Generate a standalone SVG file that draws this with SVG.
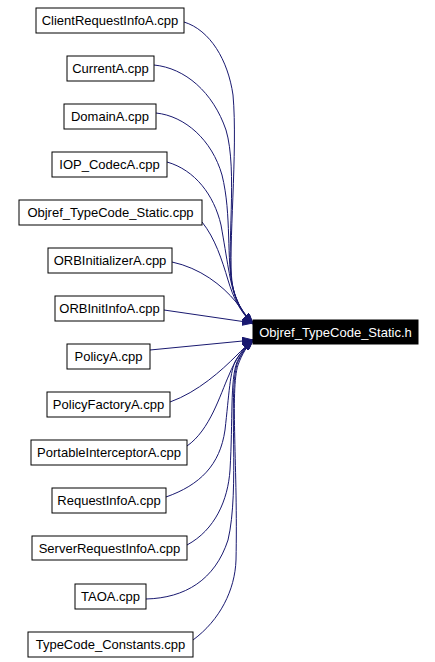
<svg xmlns="http://www.w3.org/2000/svg" width="435" height="662" viewBox="0 0 435 662">
<defs>
<marker id="ah" markerUnits="userSpaceOnUse" markerWidth="11" markerHeight="8" refX="11" refY="4" orient="auto">
<path d="M0,0 L11,4 L0,8 z" fill="#191970" stroke="#191970" stroke-width="1"/>
</marker>
<style>
.n rect{fill:#fff;stroke:#000;stroke-width:1}
.n text{font-family:"Liberation Sans",Arial,Helvetica,sans-serif;font-size:13px;fill:#000;text-anchor:middle}
.t rect{fill:#000;stroke:#000}
.t text{font-family:"Liberation Sans",Arial,Helvetica,sans-serif;font-size:13px;fill:#fff;text-anchor:middle}
.e path{fill:none;stroke:#191970;stroke-width:1;marker-end:url(#ah)}
</style>
</defs>
<rect width="435" height="662" fill="#fff"/>
<g id="edges" class="e">
<path d="M184,22 C210,30 228,60 233,95 C238,150 228,250 232,282 C235,302 242,313 253,324"/>
<path d="M154,65 C185,68 213,92 226,130 C238,170 226,250 232,284 C236,302 243,314 253,324"/>
<path d="M156,113 C185,116 212,140 222,175 C232,215 226,260 233,288 C237,304 244,315 253,324"/>
<path d="M167,162 C195,170 214,195 221,225 C227,258 230,285 236,298 C240,308 246,316 253,324"/>
<path d="M202,222 C215,238 222,260 228,280 C233,297 240,312 253,324"/>
<path d="M172,262 C200,268 222,285 236,302 C242,310 247,317 253,324"/>
<path d="M164,310 L253,323"/>
<path d="M150,350 L253,340"/>
<path d="M170,402 C198,392 222,370 236,356 C242,350 247,345 253,340"/>
<path d="M187,446 C210,430 220,395 229,375 C235,360 243,348 253,340"/>
<path d="M166,497 C200,485 220,465 225,430 C229,395 230,370 236,360 C241,352 246,346 253,340"/>
<path d="M187,545 C215,530 228,500 230,470 C233,420 230,380 237,362 C241,353 247,346 253,340"/>
<path d="M146,599 C185,598 215,580 228,540 C240,490 228,395 237,364 C241,354 247,346 253,340"/>
<path d="M193,640 C220,620 235,590 236,560 C238,470 230,390 238,365 C242,354 247,346 253,340"/>
</g>
<g id="target" class="t"><rect x="253" y="320" width="165" height="24"/><text x="335.5" y="337">Objref_TypeCode_Static.h</text></g>
<g id="n1" class="n"><rect x="36" y="8" width="148" height="25"/><text x="110" y="25">ClientRequestInfoA.cpp</text></g>
<g id="n2" class="n"><rect x="67" y="56" width="87" height="25"/><text x="110.5" y="73">CurrentA.cpp</text></g>
<g id="n3" class="n"><rect x="64" y="104" width="92" height="25"/><text x="110" y="121">DomainA.cpp</text></g>
<g id="n4" class="n"><rect x="52" y="152" width="115" height="25"/><text x="109.5" y="169">IOP_CodecA.cpp</text></g>
<g id="n5" class="n"><rect x="19" y="200" width="183" height="25"/><text x="110.5" y="217">Objref_TypeCode_Static.cpp</text></g>
<g id="n6" class="n"><rect x="48" y="248" width="124" height="25"/><text x="110" y="265">ORBInitializerA.cpp</text></g>
<g id="n7" class="n"><rect x="55" y="296" width="109" height="25"/><text x="109.5" y="313">ORBInitInfoA.cpp</text></g>
<g id="n8" class="n"><rect x="67" y="344" width="83" height="25"/><text x="108.5" y="361">PolicyA.cpp</text></g>
<g id="n9" class="n"><rect x="47" y="392" width="123" height="25"/><text x="108.5" y="409">PolicyFactoryA.cpp</text></g>
<g id="n10" class="n"><rect x="31" y="440" width="156" height="25"/><text x="109" y="457">PortableInterceptorA.cpp</text></g>
<g id="n11" class="n"><rect x="52" y="488" width="114" height="25"/><text x="109" y="505">RequestInfoA.cpp</text></g>
<g id="n12" class="n"><rect x="32" y="536" width="155" height="24"/><text x="109.5" y="553">ServerRequestInfoA.cpp</text></g>
<g id="n13" class="n"><rect x="75" y="584" width="71" height="25"/><text x="110.5" y="601">TAOA.cpp</text></g>
<g id="n14" class="n"><rect x="28" y="632" width="165" height="25"/><text x="110.5" y="649">TypeCode_Constants.cpp</text></g>
</svg>
